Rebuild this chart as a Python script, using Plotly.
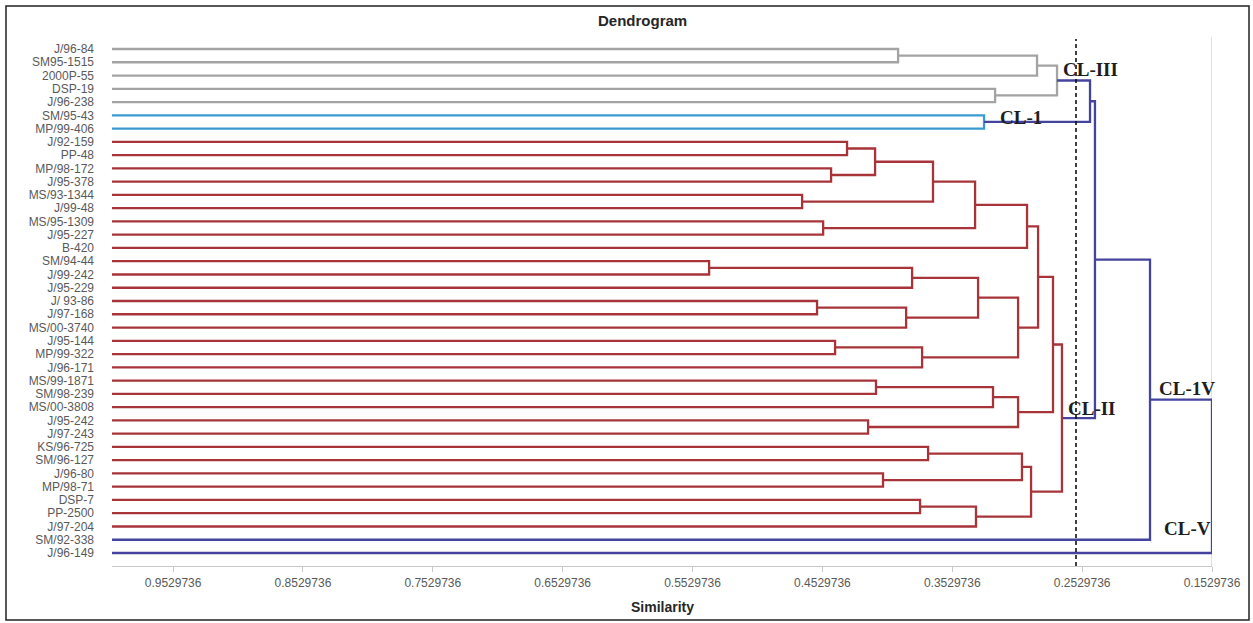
import plotly.graph_objects as go

# ---------------- data ----------------
labels = ["J/96-84", "SM95-1515", "2000P-55", "DSP-19", "J/96-238", "SM/95-43", "MP/99-406",
          "J/92-159", "PP-48", "MP/98-172", "J/95-378", "MS/93-1344", "J/99-48", "MS/95-1309",
          "J/95-227", "B-420", "SM/94-44", "J/99-242", "J/95-229", "J/ 93-86", "J/97-168",
          "MS/00-3740", "J/95-144", "MP/99-322", "J/96-171", "MS/99-1871", "SM/98-239",
          "MS/00-3808", "J/95-242", "J/97-243", "KS/96-725", "SM/96-127", "J/96-80", "MP/98-71",
          "DSP-7", "PP-2500", "J/97-204", "SM/92-338", "J/96-149"]

leaf_cluster = (["CL-III"] * 5 + ["CL-1"] * 2 + ["CL-II"] * 30 + ["CL-1V"] + ["CL-V"])

# merges: ids < 39 are leaves, id 39+k is the k-th merge
merge_left = [0, 39, 3, 40, 5, 42,
              7, 9, 45, 11, 47, 13, 49, 51, 16, 53, 19, 55, 54, 22, 58, 57, 52,
              25, 62, 28, 63, 61, 30, 32, 67, 34, 70, 69, 66, 44, 74, 75]
merge_right = [1, 2, 4, 41, 6, 43,
               8, 10, 46, 12, 48, 14, 50, 15, 17, 18, 20, 21, 56, 23, 24, 59, 60,
               26, 27, 29, 64, 65, 31, 33, 68, 35, 36, 71, 72, 73, 37, 38]
merge_similarity = [0.3947, 0.2877, 0.3200, 0.2723, 0.3285, 0.2469,
                    0.4340, 0.4463, 0.4124, 0.4686, 0.3678, 0.4524, 0.3354, 0.2954,
                    0.5402, 0.3839, 0.4571, 0.3885, 0.3331, 0.4432, 0.3762, 0.3023, 0.2869,
                    0.4117, 0.3216, 0.4178, 0.3023, 0.2754, 0.3716, 0.4063, 0.2993,
                    0.3778, 0.3347, 0.2923, 0.2685, 0.2431, 0.2007, 0.1529736]

tick_values = [0.9529736, 0.8529736, 0.7529736, 0.6529736, 0.5529736,
               0.4529736, 0.3529736, 0.2529736, 0.1529736]
tick_labels = ["0.9529736", "0.8529736", "0.7529736", "0.6529736", "0.5529736",
               "0.4529736", "0.3529736", "0.2529736", "0.1529736"]

cut_level = 0.2577
cluster_notes = ["CL-III", "CL-1", "CL-II", "CL-1V", "CL-V"]
note_x = [0.2469, 0.3000, 0.2454, 0.1722, 0.1715]
note_y = [2.58, 6.13, 28.07, 26.56, 37.12]

# ---------------- styles ----------------
cluster_color = {"CL-III": "#a3a3a3", "CL-1": "#3a9bd2", "CL-II": "#a8343a"}
link_color = "#44449e"
AX_MAX = 1.0
n = len(labels)

# ---------------- build dendrogram ----------------
node_x = {i: AX_MAX for i in range(n)}
node_y = {i: i + 1 for i in range(n)}
node_members = {i: {leaf_cluster[i]} for i in range(n)}
segs = {}
for k, (a, b, h) in enumerate(zip(merge_left, merge_right, merge_similarity)):
    cid = n + k
    mem = node_members[a] | node_members[b]
    node_members[cid] = mem
    if len(mem) == 1 and list(mem)[0] in cluster_color:
        col = cluster_color[list(mem)[0]]
    else:
        col = link_color
    xs = [node_x[a], h, h, node_x[b], None]
    ys = [node_y[a], node_y[a], node_y[b], node_y[b], None]
    segs.setdefault(col, ([], []))
    segs[col][0].extend(xs)
    segs[col][1].extend(ys)
    node_x[cid] = h
    node_y[cid] = (node_y[a] + node_y[b]) / 2

fig = go.Figure()
for col, (xs, ys) in segs.items():
    fig.add_trace(go.Scatter(x=xs, y=ys, mode="lines",
                             line=dict(color=col, width=2.3), hoverinfo="skip",
                             showlegend=False, cliponaxis=False))

# plot area geometry (pixels)
L, R, T, B = 112, 1212, 37, 566
W, H = R - L, B - T


def px(xp):
    return (xp - L) / W


def py(yp):
    return (B - yp) / H


shapes = [
    # right vertical axis line
    dict(type="line", xref="x", yref="paper", x0=min(tick_values), x1=min(tick_values),
         y0=0, y1=1, layer="below", line=dict(color="#c8c8c8", width=1.2)),
    # cut line
    dict(type="line", xref="x", yref="paper", x0=cut_level, x1=cut_level,
         y0=0, y1=py(39), line=dict(color="#111111", width=1.6, dash="4px,3px")),
    # outer frame
    dict(type="rect", xref="paper", yref="paper", x0=px(6), x1=px(1249),
         y0=py(620), y1=py(6), line=dict(color="#222222", width=1.5)),
]

annotations = [
    dict(text="<b>Dendrogram</b>", xref="paper", yref="paper", x=px(642), y=py(21),
         showarrow=False, font=dict(family="Liberation Sans", size=15, color="#262626"),
         xanchor="center", yanchor="middle"),
    dict(text="<b>Similarity</b>", xref="paper", yref="paper", x=px(662), y=py(607),
         showarrow=False, font=dict(family="Liberation Sans", size=14, color="#262626"),
         xanchor="center", yanchor="middle"),
]
for t, xv, yv in zip(cluster_notes, note_x, note_y):
    annotations.append(dict(text="<b>" + t + "</b>", x=xv, y=yv, xref="x", yref="y",
                            showarrow=False, xanchor="center", yanchor="middle",
                            font=dict(family="Liberation Serif", size=19, color="#1e1e1e")))

fig.update_layout(
    width=1253, height=623,
    margin=dict(l=L, r=1253 - R, t=T, b=623 - B),
    paper_bgcolor="white", plot_bgcolor="white",
    shapes=shapes, annotations=annotations,
    xaxis=dict(range=[AX_MAX, min(tick_values)], tickvals=tick_values, ticktext=tick_labels,
               showgrid=False, zeroline=False, showline=True, linecolor="#c8c8c8",
               linewidth=1.2, ticks="outside", ticklen=5, tickcolor="#c8c8c8",
               tickfont=dict(family="Liberation Sans", size=12, color="#595959")),
    yaxis=dict(range=[39.98, 0.095], tickvals=list(range(1, n + 1)), ticktext=labels,
               showgrid=False, zeroline=False, showline=False, ticks="",
               ticklabelstandoff=17,
               tickfont=dict(family="Liberation Sans", size=12, color="#595959")),
)

fig.write_html("out.html")
